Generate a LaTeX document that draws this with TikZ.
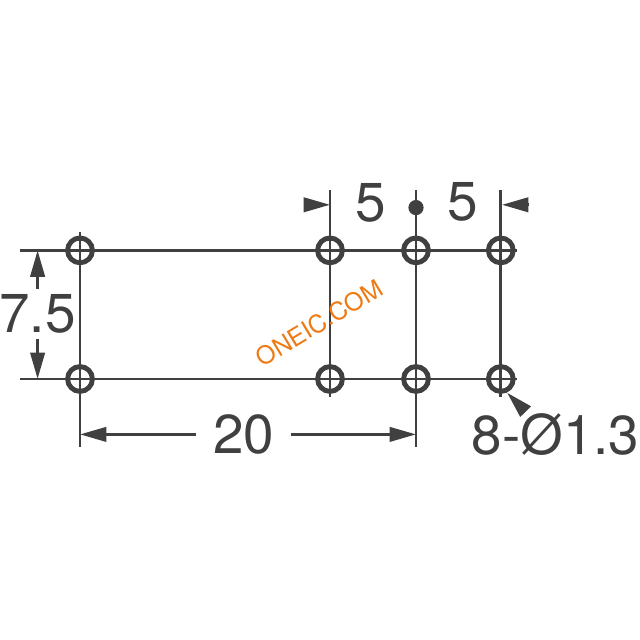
\documentclass[tikz,border=0pt]{standalone}
\usepackage{fontspec}
\setmainfont{TeX Gyre Heros}
\usetikzlibrary{arrows.meta}
\definecolor{inkgray}{HTML}{404040}
\definecolor{markorange}{HTML}{EE7A14}
\tikzset{
	ext/.style={line width=2pt, color=inkgray},
	hole/.style={line width=3.5pt, color=inkgray},
	dim/.style={line width=2pt, color=inkgray, -{Triangle[length=0.66cm, width=0.36cm]}, shorten >=0pt},
	size/.style={font=\fontsize{39}{39}\selectfont, text=inkgray, inner sep=0pt}
}

\begin{document}
\begin{tikzpicture}
		%%%%% START %%%%%
		\useasboundingbox (0, 0) rectangle (16, 16);
		
		\coordinate (topleft) at (0.5, 9.74);
		\coordinate (topright) at (12.925, 9.74);
		\coordinate (botleft) at (0.5, 6.525);
		\coordinate (botright) at (12.925, 6.525);
		\draw[ext] (topleft) -- (topright);
		\draw[ext] (botleft) -- (botright);
		
		\coordinate (pina) at (2, 10.2);
		\coordinate (pinaend) at (2, 4.825);
		\coordinate (pinb) at (8.25, 11.25);
		\coordinate (pinbend) at (8.25, 6.075);
		\coordinate (pinc) at (10.4, 11.25);
		\coordinate (pincend) at (10.4, 4.825);
		\coordinate (pind) at (12.52, 11.25);
		\coordinate (pindend) at (12.52, 6.075);
		\draw[ext] (pina) -- (pinaend);
		\draw[ext] (pinb) -- (pinbend);
		\draw[ext] (pinc) -- (pincend);
		\draw[ext] (pind) -- (pindend);
		
		\draw[hole] (2, 9.74) circle (0.31);
		\draw[hole] (8.25, 9.74) circle (0.31);
		\draw[hole] (10.4, 9.74) circle (0.31);
		\draw[hole] (12.52, 9.74) circle (0.31);
		\draw[hole] (2, 6.525) circle (0.31);
		\draw[hole] (8.25, 6.525) circle (0.31);
		\draw[hole] (10.4, 6.525) circle (0.31);
		\draw[hole] (12.52, 6.525) circle (0.31);
		\fill[inkgray] (10.4, 10.81) circle (0.19);
		
		\node[size, inner ysep=0.13cm] (seven) at (0.94, 8.15) {7.5};
		\coordinate (seventop) at (0.94, 9.74);
		\coordinate (sevenbot) at (0.94, 6.525);
		\draw[dim] (seven) -- (seventop);
		\draw[dim] (seven) -- (sevenbot);
		
		\node[size, inner xsep=0.42cm] (twenty) at (6.09, 5.14) {20};
		\coordinate (twentyleft) at (2, 5.14);
		\coordinate (twentyright) at (10.4, 5.14);
		\draw[dim] (twenty) -- (twentyleft);
		\draw[dim] (twenty) -- (twentyright);
		
		\node[size] (fivea) at (9.275, 10.925) {5};
		\node[size] (fiveb) at (11.575, 10.95) {5};
		\coordinate (fiveafrom) at (7.59, 10.88);
		\coordinate (fiveato) at (8.25, 10.88);
		\coordinate (fivebfrom) at (13.21, 10.88);
		\coordinate (fivebto) at (12.55, 10.88);
		\draw[dim] (fiveafrom) -- (fiveato);
		\draw[dim] (fivebfrom) -- (fivebto);
		
		\node[size] (diam) at (13.89, 5.125) {8-Ø1.3};
		\coordinate (diamfrom) at (13.12, 5.73);
		\coordinate (diamto) at (12.68, 6.18);
		\draw[dim] (diamfrom) -- (diamto);
		
		\node[font=\fontsize{17.6}{18}\selectfont, text=markorange, rotate=31, inner sep=0pt] (mark) at (7.98, 7.93) {ONEIC.COM};
		%%%%% END %%%%%
	\end{tikzpicture}
\end{document}
